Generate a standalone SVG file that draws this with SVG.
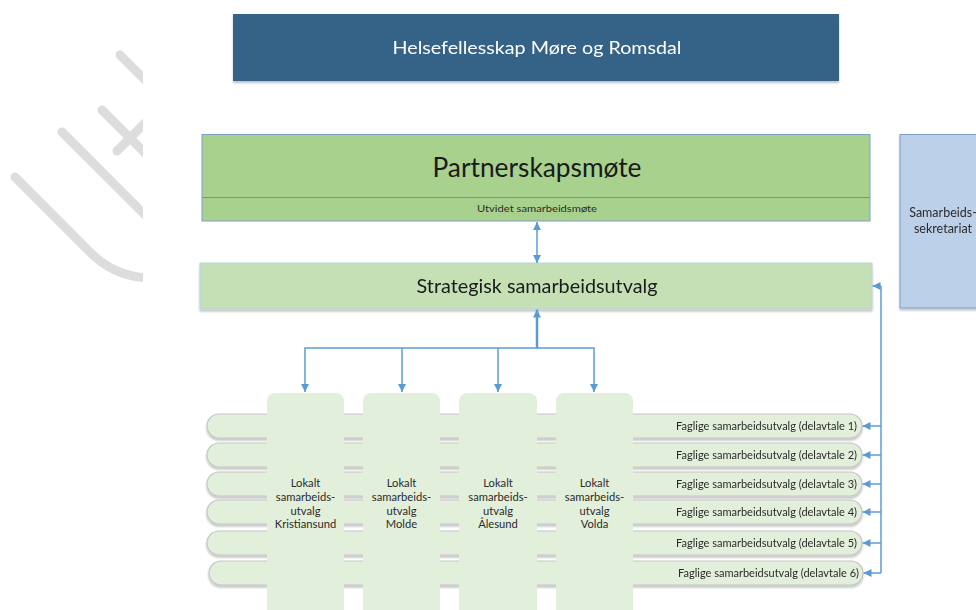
<svg xmlns="http://www.w3.org/2000/svg" width="976" height="610" viewBox="0 0 976 610">
<defs>
<style>
text{font-family:Lato,"Open Sans","Liberation Sans",sans-serif;fill:#2b2b2b;}
.wm{fill:none;stroke:#DDDDDD;stroke-width:9;stroke-linecap:round;}
.bar{fill:#E2EFDA;stroke:#C6C6C6;stroke-width:1.2;}
.loc{fill:#E2EFDA;}
.conn{fill:none;stroke:#5B9BD5;stroke-width:1.5;}
.ft{font-size:10.5px;text-anchor:end;}
.lt{font-size:11.2px;text-anchor:middle;}
</style>
<marker id="ah" viewBox="0 0 10 10" refX="10" refY="5" markerWidth="8" markerHeight="8" markerUnits="userSpaceOnUse" orient="auto-start-reverse">
<path d="M0,0 L10,5 L0,10 z" fill="#5B9BD5"/>
</marker>
<clipPath id="wmclip"><rect x="0" y="0" width="143" height="610"/></clipPath>
<filter id="sh" x="-5%" y="-20%" width="110%" height="150%">
<feGaussianBlur in="SourceAlpha" stdDeviation="1.2"/>
<feOffset dx="0" dy="1.5"/>
<feComponentTransfer><feFuncA type="linear" slope="0.25"/></feComponentTransfer>
<feMerge><feMergeNode/><feMergeNode in="SourceGraphic"/></feMerge>
</filter>
</defs>
<rect width="976" height="610" fill="#FFFFFF"/>
<g id="watermark" clip-path="url(#wmclip)">
<path class="wm" d="M120,55 L160,95"/>
<path class="wm" d="M102,110 L160,168"/>
<path class="wm" d="M117,151 L160,108"/>
<path class="wm" d="M62,132 L160,230"/>
<path class="wm" d="M15,177 L88,250 Q113,277 150,278"/>
</g>
<g id="header" filter="url(#sh)">
<rect x="233" y="14" width="606" height="67" fill="#366388"/>
<text x="537" y="53.5" style="fill:#FFFFFF;font-size:18px;text-anchor:middle" textLength="289" lengthAdjust="spacingAndGlyphs">Helsefellesskap Møre og Romsdal</text>
</g>
<g id="partnerskap">
<rect x="202" y="134.5" width="668" height="86.5" fill="#A9D18E" stroke="#7C9FC8" stroke-width="1"/>
<line x1="202" y1="197.5" x2="870" y2="197.5" stroke="#6F8FB5" stroke-width="1"/>
<text x="537" y="177" style="font-size:26px;text-anchor:middle;fill:#1a1a1a" textLength="209" lengthAdjust="spacingAndGlyphs">Partnerskapsmøte</text>
<text x="537" y="212" style="font-size:9.5px;text-anchor:middle" textLength="120" lengthAdjust="spacingAndGlyphs">Utvidet samarbeidsmøte</text>
</g>
<g id="strategisk" filter="url(#sh)">
<rect x="200" y="263" width="672" height="46" fill="#C5E0B4" stroke="#B7D2E8" stroke-width="1"/>
<text x="537" y="293" style="font-size:19px;text-anchor:middle;fill:#1a1a1a" textLength="241" lengthAdjust="spacingAndGlyphs">Strategisk samarbeidsutvalg</text>
</g>
<g id="sekretariat" filter="url(#sh)">
<rect x="900" y="134.5" width="90" height="173.5" fill="#BDD0EA" stroke="#7C9FC8" stroke-width="1"/>
<text x="943" y="217" style="font-size:12.5px;text-anchor:middle">Samarbeids-</text>
<text x="943" y="233" style="font-size:12.5px;text-anchor:middle">sekretariat</text>
</g>
<g id="faglige">
<g id="fag1" filter="url(#sh)"><rect class="bar" x="207" y="414" width="655" height="24" rx="12"/><text class="ft" x="857" y="430" textLength="181" lengthAdjust="spacingAndGlyphs">Faglige samarbeidsutvalg (delavtale 1)</text></g>
<g id="fag2" filter="url(#sh)"><rect class="bar" x="207" y="443" width="655" height="24" rx="12"/><text class="ft" x="857" y="459" textLength="181" lengthAdjust="spacingAndGlyphs">Faglige samarbeidsutvalg (delavtale 2)</text></g>
<g id="fag3" filter="url(#sh)"><rect class="bar" x="207" y="472" width="655" height="24" rx="12"/><text class="ft" x="857" y="488" textLength="181" lengthAdjust="spacingAndGlyphs">Faglige samarbeidsutvalg (delavtale 3)</text></g>
<g id="fag4" filter="url(#sh)"><rect class="bar" x="207" y="500" width="655" height="24" rx="12"/><text class="ft" x="857" y="516" textLength="181" lengthAdjust="spacingAndGlyphs">Faglige samarbeidsutvalg (delavtale 4)</text></g>
<g id="fag5" filter="url(#sh)"><rect class="bar" x="207" y="531" width="655" height="24" rx="12"/><text class="ft" x="857" y="547" textLength="181" lengthAdjust="spacingAndGlyphs">Faglige samarbeidsutvalg (delavtale 5)</text></g>
<g id="fag6" filter="url(#sh)"><rect class="bar" x="209" y="561" width="654" height="24" rx="12"/><text class="ft" x="859" y="577" textLength="181" lengthAdjust="spacingAndGlyphs">Faglige samarbeidsutvalg (delavtale 6)</text></g>
</g>
<g id="lokal-kristiansund">
<rect class="loc" x="267" y="393" width="77" height="230" rx="8"/>
<text class="lt" x="305.5" y="487">Lokalt</text><text class="lt" x="305.5" y="501">samarbeids-</text><text class="lt" x="305.5" y="514.5">utvalg</text><text class="lt" x="305.5" y="528">Kristiansund</text>
</g>
<g id="lokal-molde">
<rect class="loc" x="363" y="393" width="77" height="230" rx="8"/>
<text class="lt" x="401.5" y="487">Lokalt</text><text class="lt" x="401.5" y="501">samarbeids-</text><text class="lt" x="401.5" y="514.5">utvalg</text><text class="lt" x="401.5" y="528">Molde</text>
</g>
<g id="lokal-alesund">
<rect class="loc" x="459" y="393" width="78" height="230" rx="8"/>
<text class="lt" x="498" y="487">Lokalt</text><text class="lt" x="498" y="501">samarbeids-</text><text class="lt" x="498" y="514.5">utvalg</text><text class="lt" x="498" y="528">Ålesund</text>
</g>
<g id="lokal-volda">
<rect class="loc" x="556" y="393" width="77" height="230" rx="8"/>
<text class="lt" x="594.5" y="487">Lokalt</text><text class="lt" x="594.5" y="501">samarbeids-</text><text class="lt" x="594.5" y="514.5">utvalg</text><text class="lt" x="594.5" y="528">Volda</text>
</g>
<g id="connectors">
<line class="conn" x1="537" y1="222" x2="537" y2="263" marker-start="url(#ah)" marker-end="url(#ah)"/>
<line class="conn" x1="537" y1="348" x2="537" y2="309.5" style="stroke-width:2.5" marker-end="url(#ah)"/>
<polyline class="conn" points="305,392 305,348 594,348 594,392" marker-start="url(#ah)" marker-end="url(#ah)"/>
<line class="conn" x1="402" y1="348" x2="402" y2="392" marker-end="url(#ah)"/>
<line class="conn" x1="498" y1="348" x2="498" y2="392" marker-end="url(#ah)"/>
<line class="conn" x1="881" y1="286" x2="881" y2="573"/>
<line class="conn" x1="881" y1="286" x2="872.5" y2="286" marker-end="url(#ah)"/>
<line class="conn" x1="881" y1="426" x2="862.5" y2="426" marker-end="url(#ah)"/>
<line class="conn" x1="881" y1="455" x2="862.5" y2="455" marker-end="url(#ah)"/>
<line class="conn" x1="881" y1="484" x2="862.5" y2="484" marker-end="url(#ah)"/>
<line class="conn" x1="881" y1="512" x2="862.5" y2="512" marker-end="url(#ah)"/>
<line class="conn" x1="881" y1="543" x2="862.5" y2="543" marker-end="url(#ah)"/>
<line class="conn" x1="881" y1="573" x2="863.5" y2="573" marker-end="url(#ah)"/>
</g>
</svg>
